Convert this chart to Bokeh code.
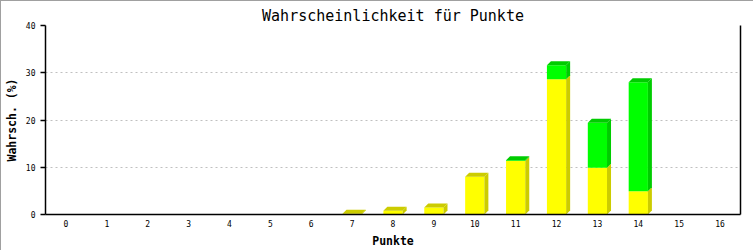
from bokeh.plotting import figure
from bokeh.models import FixedTicker, LinearAxis, Range1d, ColumnDataSource
from bokeh.embed import file_html
from bokeh.resources import INLINE

# --- data ---
punkte = list(range(17))
tick_labels = [str(k) for k in punkte]
gelb = [0, 0, 0, 0, 0, 0, 0, 0.15, 0.8, 1.5, 8.0, 11.3, 28.6, 9.9, 4.9, 0, 0]
gruen = [0, 0, 0, 0, 0, 0, 0, 0, 0, 0, 0, 0.2, 3.0, 9.5, 23.1, 0, 0]
y_ticks = [0, 10, 20, 30, 40]

# --- style ---
FW, FH = 695, 189
BAR_W = 0.47
DEPTH_PX = 4
YEL, YEL_D = "#ffff00", "#cccc00"
GRN, GRN_D = "#00ff00", "#00cc00"
MONO = "DejaVu Sans Mono"

x0, x1 = -0.5, 16.5
y0, y1 = 0, 40
dx = DEPTH_PX / (FW / (x1 - x0))
dy = DEPTH_PX / (FH / (y1 - y0))

p = figure(frame_width=FW, frame_height=FH, output_backend="svg", toolbar_location=None,
           x_range=Range1d(x0, x1), y_range=Range1d(y0, y1),
           min_border_left=42, min_border_right=14, min_border_top=24, min_border_bottom=35,
           title="Wahrscheinlichkeit für Punkte")
p.styles = {"border": "1px solid #a0a0a0"}
p.background_fill_color = "white"
p.border_fill_color = "white"
p.outline_line_color = None

p.title.align = "center"
p.title.offset = -14
p.title.text_font = MONO
p.title.text_font_style = "normal"
p.title.text_font_size = "15px"
p.title.text_color = "black"
p.title.standoff = 2

# stacked segments
segments = []  # (x, bottom, top, front, dark, is_top)
for i, k in enumerate(punkte):
    layers = [(gelb[i], YEL, YEL_D), (gruen[i], GRN, GRN_D)]
    base = 0.0
    nz = [j for j, l in enumerate(layers) if l[0] > 0]
    for j, (v, c, d) in enumerate(layers):
        if v <= 0:
            continue
        segments.append((k, base, base + v, c, d, j == nz[-1]))
        base += v

front = ColumnDataSource(dict(
    left=[s[0] - BAR_W / 2 for s in segments],
    right=[s[0] + BAR_W / 2 for s in segments],
    bottom=[s[1] for s in segments],
    top=[s[2] for s in segments],
    color=[s[3] for s in segments]))
p.quad(left="left", right="right", bottom="bottom", top="top", source=front,
       fill_color="color", line_color=None)

side_xs, side_ys, side_c = [], [], []
top_xs, top_ys, top_c = [], [], []
for (k, b, t, c, d, is_top) in segments:
    r = k + BAR_W / 2
    l = k - BAR_W / 2
    side_xs.append([r, r + dx, r + dx, r])
    side_ys.append([b, b + dy, t + dy, t])
    side_c.append(d)
    if is_top:
        top_xs.append([l, l + dx, r + dx, r])
        top_ys.append([t, t + dy, t + dy, t])
        top_c.append(d)
p.patches(side_xs, side_ys, fill_color=side_c, line_color=None)
p.patches(top_xs, top_ys, fill_color=top_c, line_color=None)

# axes
xa = p.xaxis[0]
xa.ticker = FixedTicker(ticks=punkte)
xa.major_label_overrides = {k: lab for k, lab in zip(punkte, tick_labels)}
xa.major_tick_out = 0
xa.major_tick_in = 0
xa.minor_tick_line_color = None
xa.axis_line_color = "black"
xa.axis_line_width = 1.5
xa.major_label_text_font = MONO
xa.major_label_text_font_size = "8px"
xa.major_label_text_color = "black"
xa.major_label_standoff = 5
xa.axis_label = "Punkte"
xa.axis_label_text_font = MONO
xa.axis_label_text_font_style = "bold"
xa.axis_label_text_font_size = "11.5px"
xa.axis_label_text_color = "black"
xa.axis_label_standoff = 4

ya = p.yaxis[0]
ya.ticker = FixedTicker(ticks=y_ticks)
ya.major_tick_out = 5
ya.major_tick_in = 0
ya.major_tick_line_color = "black"
ya.major_tick_line_width = 1.5
ya.minor_tick_line_color = None
ya.axis_line_color = "black"
ya.axis_line_width = 1.5
ya.major_label_text_font = MONO
ya.major_label_text_font_size = "8px"
ya.major_label_text_color = "black"
ya.major_label_standoff = 5
ya.axis_label = "Wahrsch. (%)"
ya.axis_label_text_font = MONO
ya.axis_label_text_font_style = "bold"
ya.axis_label_text_font_size = "11.5px"
ya.axis_label_text_color = "black"
ya.axis_label_standoff = 4

ra = LinearAxis(ticker=FixedTicker(ticks=[]), major_tick_line_color=None,
                minor_tick_line_color=None, major_label_text_font_size="0px",
                axis_line_color="black", axis_line_width=1.5)
p.add_layout(ra, "right")

p.xgrid.grid_line_color = None
p.ygrid.ticker = FixedTicker(ticks=y_ticks)
p.ygrid.grid_line_color = "#c0c0c0"
p.ygrid.grid_line_dash = "2 3"

open("out.html", "w").write(file_html(p, INLINE))
